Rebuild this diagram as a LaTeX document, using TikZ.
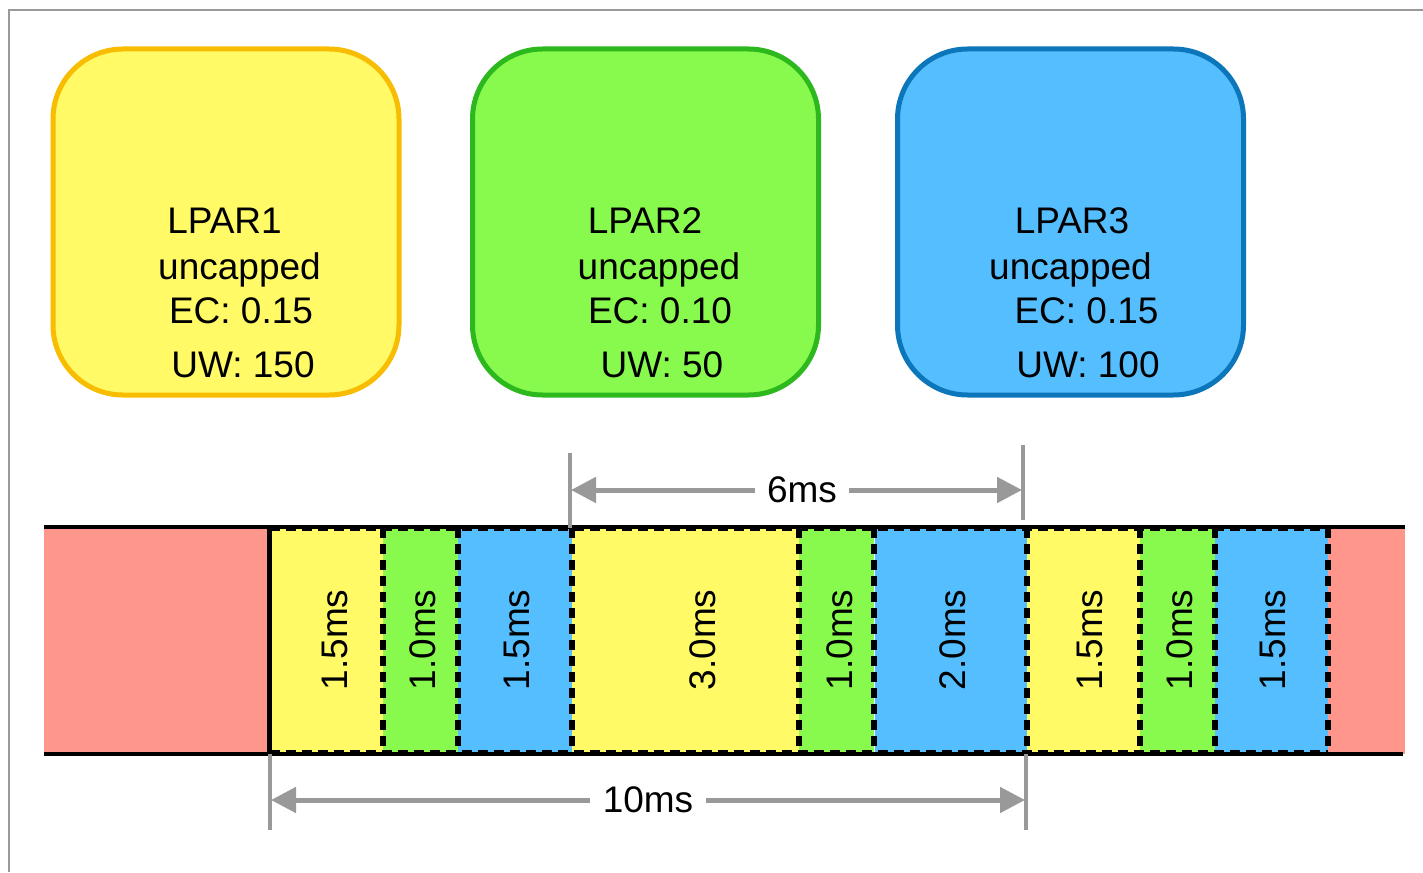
\documentclass[tikz,border=0pt]{standalone}
\usepackage{fontspec}
\setmainfont{Liberation Sans}
\usetikzlibrary{arrows.meta}
\definecolor{yelfill}{HTML}{FFFA66}
\definecolor{yelline}{HTML}{F8BC00}
\definecolor{grnfill}{HTML}{88FA4E}
\definecolor{grnline}{HTML}{2DB81D}
\definecolor{blufill}{HTML}{55BEFF}
\definecolor{bluline}{HTML}{0B76BA}
\definecolor{pinkfill}{HTML}{FF968C}
\definecolor{dimgray}{HTML}{999999}
\begin{document}
\begin{tikzpicture}[x=1pt,y=-1pt,
  lparbox/.style={draw, line width=5pt, rounded corners=70pt, minimum width=346pt, minimum height=346pt, inner sep=0pt},
  txt/.style={font=\fontsize{37}{44}\selectfont, inner sep=0pt, anchor=base},
  slot/.style={draw=none, minimum height=224pt, inner sep=0pt},
  slotborder/.style={draw=black, dash pattern=on 10pt off 6pt, line width=6pt},
  slotlabel/.style={rotate=90, font=\fontsize{37}{44}\selectfont, inner sep=0pt},
  pinkblock/.style={fill=pinkfill, draw=none, minimum height=227pt, inner sep=0pt},
  dimline/.style={draw=dimgray, line width=5pt, -{Triangle[length=25pt,width=25pt]}},
  dimtick/.style={draw=dimgray, line width=4.5pt},
  dimlabel/.style={font=\fontsize{37}{44}\selectfont, inner ysep=0pt},
  frameline/.style={draw=dimgray, line width=2.5pt}
]
\useasboundingbox (0,0) rectangle (1423,872);
% frame
\coordinate (fbl) at (9,872);
\coordinate (ftl) at (9,10);
\coordinate (ftr) at (1423,10);
\draw[frameline] (fbl) -- (ftl) -- (ftr);

% LPAR boxes
\node[lparbox, fill=yelfill, draw=yelline] (box1) at (226,222) {};
\node[lparbox, fill=grnfill, draw=grnline] (box2) at (645.5,222) {};
\node[lparbox, fill=blufill, draw=bluline] (box3) at (1070.5,222) {};

\node[txt] (b1a) at (224.5,233) {LPAR1};
\node[txt] (b1b) at (239.5,279) {uncapped};
\node[txt] (b1c) at (241,323) {EC: 0.15};
\node[txt] (b1d) at (243,377) {UW: 150};

\node[txt] (b2a) at (645,233) {LPAR2};
\node[txt] (b2b) at (659,279) {uncapped};
\node[txt] (b2c) at (660,323) {EC: 0.10};
\node[txt] (b2d) at (662,377) {UW: 50};

\node[txt] (b3a) at (1072,233) {LPAR3};
\node[txt] (b3b) at (1070.5,279) {uncapped};
\node[txt] (b3c) at (1086.5,323) {EC: 0.15};
\node[txt] (b3d) at (1088,377) {UW: 100};

% timeline background
\node[pinkblock, minimum width=226pt] (pinkL) at (157,640.5) {};
\node[pinkblock, minimum width=77pt] (pinkR) at (1366.5,640.5) {};
\coordinate (tl) at (44,527);
\coordinate (tr) at (1405,527);
\coordinate (bl) at (44,754);
\coordinate (br) at (1403,754);

% slots
\node[slot, fill=yelfill, minimum width=113pt] (s1) at (326.5,640.5) {};
\node[slot, fill=grnfill, minimum width=75pt] (s2) at (420.5,640.5) {};
\node[slot, fill=blufill, minimum width=114pt] (s3) at (515,640.5) {};
\node[slot, fill=yelfill, minimum width=227pt] (s4) at (685.5,640.5) {};
\node[slot, fill=grnfill, minimum width=75pt] (s5) at (836.5,640.5) {};
\node[slot, fill=blufill, minimum width=152pt] (s6) at (950.5,640.5) {};
\node[slot, fill=yelfill, minimum width=113pt] (s7) at (1083.5,640.5) {};
\node[slot, fill=grnfill, minimum width=75pt] (s8) at (1177.5,640.5) {};
\node[slot, fill=blufill, minimum width=113pt] (s9) at (1271.5,640.5) {};

\draw[line width=3.5pt] (tl) -- (tr);
\draw[line width=3.5pt] (bl) -- (br);

\draw[slotborder] (s1.north west) -- (s9.north east);
\draw[slotborder] (s1.south west) -- (s9.south east);
\foreach \s in {s1,s2,s3,s4,s5,s6,s7,s8,s9}
  \draw[slotborder] (\s.north east) -- (\s.south east);

\draw[line width=5pt] (s1.north west) -- (s1.south west);

\node[slotlabel] (l1) at (335,640) {1.5ms};
\node[slotlabel] (l2) at (422.5,640) {1.0ms};
\node[slotlabel] (l3) at (516.5,640) {1.5ms};
\node[slotlabel] (l4) at (702.5,640) {3.0ms};
\node[slotlabel] (l5) at (840,640) {1.0ms};
\node[slotlabel] (l6) at (953,640) {2.0ms};
\node[slotlabel] (l7) at (1090,640) {1.5ms};
\node[slotlabel] (l8) at (1179.5,640) {1.0ms};
\node[slotlabel] (l9) at (1272.5,640) {1.5ms};

% 6ms dimension
\coordinate (t6la) at (570,453);
\coordinate (t6lb) at (570,528);
\coordinate (t6ra) at (1023,445);
\coordinate (t6rb) at (1023,520);
\draw[dimtick] (t6la) -- (t6lb);
\draw[dimtick] (t6ra) -- (t6rb);
\node[dimlabel, inner xsep=12pt] (d6) at (802,490) {6ms};
\coordinate (a6l) at (571,490);
\coordinate (a6r) at (1022,490);
\draw[dimline] (d6.west) -- (a6l);
\draw[dimline] (d6.east) -- (a6r);

% 10ms dimension
\coordinate (t10la) at (270,754);
\coordinate (t10lb) at (270,830);
\coordinate (t10ra) at (1026,754);
\coordinate (t10rb) at (1026,830);
\draw[dimtick] (t10la) -- (t10lb);
\draw[dimtick] (t10ra) -- (t10rb);
\node[dimlabel, inner xsep=13pt] (d10) at (648,800) {10ms};
\coordinate (a10l) at (271,800);
\coordinate (a10r) at (1025,800);
\draw[dimline] (d10.west) -- (a10l);
\draw[dimline] (d10.east) -- (a10r);
\end{tikzpicture}
\end{document}
